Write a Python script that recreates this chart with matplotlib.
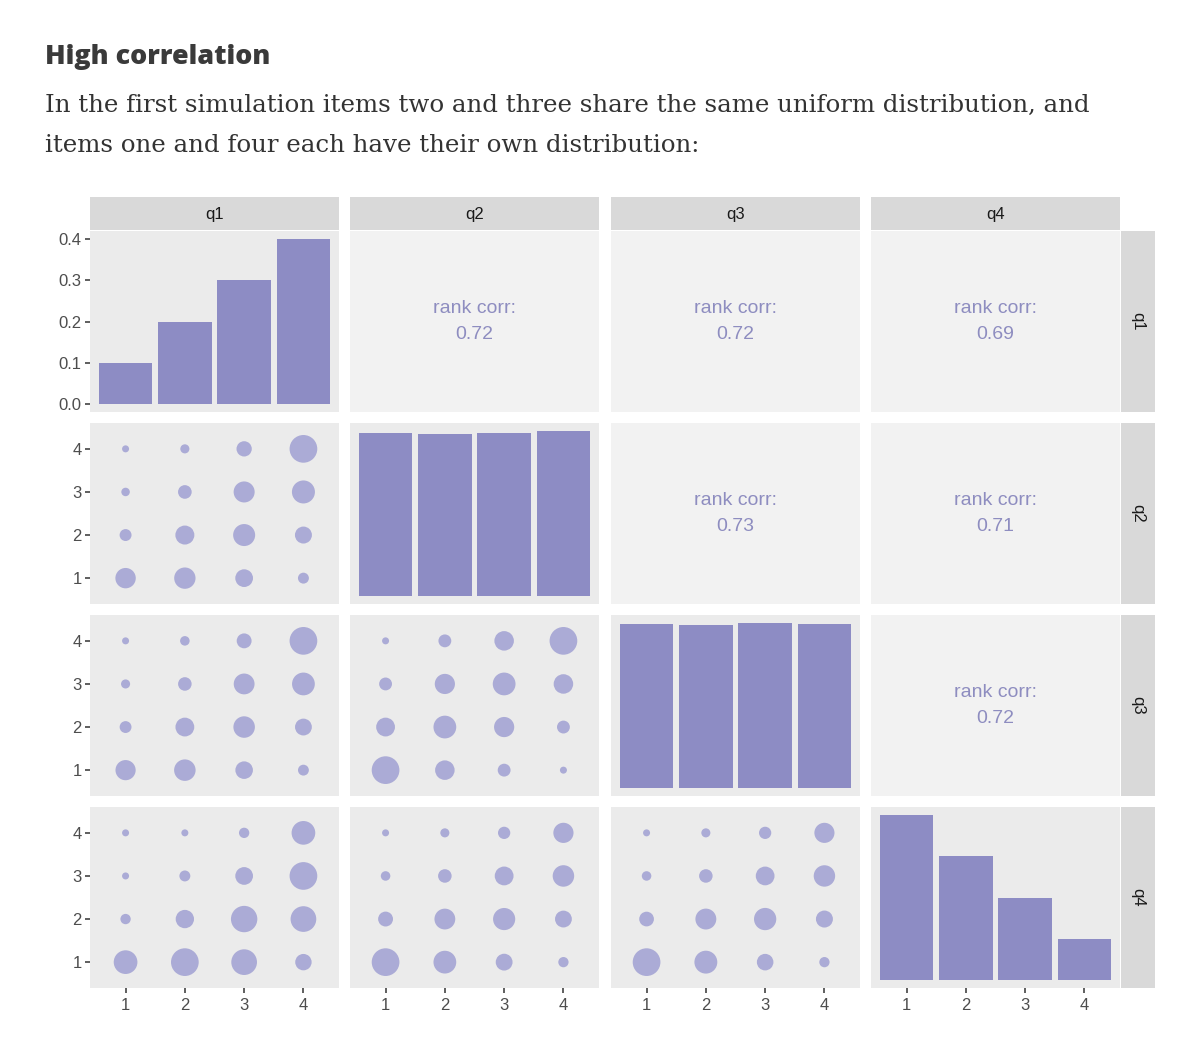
import matplotlib
matplotlib.use('Agg')
import matplotlib.pyplot as plt
from matplotlib.patches import Rectangle
import numpy as np

# ---------------- data ----------------
variables = ['q1', 'q2', 'q3', 'q4']
levels = [1, 2, 3, 4]

# diagonal: proportion of responses per level
diag_q1 = [0.10, 0.20, 0.30, 0.40]
diag_q2 = [0.250, 0.248, 0.250, 0.252]
diag_q3 = [0.250, 0.249, 0.251, 0.250]
diag_q4 = [0.40, 0.30, 0.20, 0.10]

# upper triangle: rank correlations
corr_q1_q2 = 0.72
corr_q1_q3 = 0.72
corr_q1_q4 = 0.69
corr_q2_q3 = 0.73
corr_q2_q4 = 0.71
corr_q3_q4 = 0.72

# lower triangle: counts; rows = y level 1..4, columns = x level 1..4
counts_q2_q1 = [[86, 98, 57, 12],
                [16, 70, 107, 50],
                [6, 25, 94, 121],
                [5, 7, 36, 199]]
counts_q3_q1 = [[86, 103, 57, 12],
                [16, 70, 103, 50],
                [7, 25, 94, 121],
                [5, 8, 34, 205]]
counts_q3_q2 = [[205, 78, 21, 5],
                [70, 121, 86, 21],
                [21, 86, 121, 78],
                [5, 21, 78, 205]]
counts_q4_q1 = [[131, 199, 163, 45],
                [10, 63, 175, 163],
                [5, 12, 57, 199],
                [5, 5, 10, 131]]
counts_q4_q2 = [[205, 121, 50, 10],
                [34, 94, 112, 50],
                [8, 25, 70, 103],
                [5, 7, 18, 86]]
counts_q4_q3 = [[207, 124, 48, 10],
                [33, 96, 115, 52],
                [8, 25, 70, 103],
                [5, 7, 18, 86]]

y_ticks_prop = [0.0, 0.1, 0.2, 0.3, 0.4]
y_ticklabels_prop = ['0.0', '0.1', '0.2', '0.3', '0.4']

diags = {0: diag_q1, 1: diag_q2, 2: diag_q3, 3: diag_q4}
uppers = {(0, 1): corr_q1_q2, (0, 2): corr_q1_q3, (0, 3): corr_q1_q4,
          (1, 2): corr_q2_q3, (1, 3): corr_q2_q4, (2, 3): corr_q3_q4}
lowers = {(1, 0): counts_q2_q1, (2, 0): counts_q3_q1, (2, 1): counts_q3_q2,
          (3, 0): counts_q4_q1, (3, 1): counts_q4_q2, (3, 2): counts_q4_q3}

# ---------------- style ----------------
W, H, DPI = 1200, 1057, 100
BAR = '#8D8CC4'
PT = '#ABABD6'
TXT_CORR = '#8E8DC0'
BG_LOW = '#EBEBEB'
BG_UP = '#F2F2F2'
STRIP = '#D9D9D9'
TICKC = '#4D4D4D'
SANS = ['Liberation Sans', 'DejaVu Sans']

col_x = [90, 350, 611, 871]
col_w = 249
row_y = [231, 423, 615, 807]
row_h = 181
top_strip_y, top_strip_h = 197, 33
right_strip_x, right_strip_w = 1121, 34

D_MIN_PX, D_MAX_PX = 7.0, 27.7

fig = plt.figure(figsize=(W / DPI, H / DPI), dpi=DPI)
fig.patch.set_facecolor('white')


def frac_rect(x, y, w, h):
    return [x / W, 1 - (y + h) / H, w / W, h / H]


def style_axes(ax, bg, left, bottom):
    ax.set_facecolor(bg)
    for s in ax.spines.values():
        s.set_visible(False)
    ax.tick_params(axis='both', length=3.4, width=1.1, color='#333333',
                   labelcolor=TICKC, labelsize=12, pad=2.5)
    ax.tick_params(axis='x', pad=4)
    if not left:
        ax.set_yticks([])
    if not bottom:
        ax.set_xticks([])


for i in range(4):
    for j in range(4):
        ax = fig.add_axes(frac_rect(col_x[j], row_y[i], col_w, row_h))
        ax.set_xlim(0.4, 4.6)
        if i == j:
            vals = diags[i]
            ax.bar(levels, vals, width=0.9, color=BAR, linewidth=0)
            m = max(vals)
            ax.set_ylim(-0.05 * m, 1.05 * m)
            style_axes(ax, BG_LOW, j == 0, i == 3)
            if j == 0:
                ax.set_yticks(y_ticks_prop)
                ax.set_yticklabels(y_ticklabels_prop)
        elif i < j:
            ax.set_ylim(0, 1)
            style_axes(ax, BG_UP, j == 0, i == 3)
            ax.text(2.5, 0.5, 'rank corr:\n%.2f' % uppers[(i, j)],
                    ha='center', va='center', color=TXT_CORR, fontsize=14,
                    family=SANS, linespacing=1.75)
        else:
            c = np.array(lowers[(i, j)], dtype=float)
            xs, ys = np.meshgrid(levels, levels)
            norm = (c - c.min()) / (c.max() - c.min())
            d_px = D_MIN_PX + (D_MAX_PX - D_MIN_PX) * np.sqrt(norm)
            d_pt = d_px * 72 / DPI
            ax.scatter(xs.ravel(), ys.ravel(), s=(d_pt ** 2).ravel(),
                       color=PT, linewidths=0)
            ax.set_ylim(0.4, 4.6)
            style_axes(ax, BG_LOW, j == 0, i == 3)
            if j == 0:
                ax.set_yticks(levels)
        if i == 3:
            ax.set_xticks(levels)
        for lab in ax.get_xticklabels() + ax.get_yticklabels():
            lab.set_family(SANS)

# top strips
for j in range(4):
    fig.patches.append(Rectangle((col_x[j] / W, 1 - (top_strip_y + top_strip_h) / H),
                                 col_w / W, top_strip_h / H,
                                 transform=fig.transFigure, facecolor=STRIP,
                                 edgecolor='none'))
    fig.text((col_x[j] + col_w / 2) / W, 1 - (top_strip_y + top_strip_h / 2 + 1.5) / H,
             variables[j], ha='center', va='center', fontsize=12,
             color='#1A1A1A', family=SANS)

# right strips
for i in range(4):
    fig.patches.append(Rectangle((right_strip_x / W, 1 - (row_y[i] + row_h) / H),
                                 right_strip_w / W, row_h / H,
                                 transform=fig.transFigure, facecolor=STRIP,
                                 edgecolor='none'))
    fig.text((right_strip_x + right_strip_w / 2) / W, 1 - (row_y[i] + row_h / 2) / H,
             variables[i], ha='center', va='center', fontsize=12, rotation=-90,
             color='#1A1A1A', family=SANS)

# title and subtitle
renderer = fig.canvas.get_renderer()
title = fig.text(45 / W, 1 - 57 / H, 'High correlation', ha='left', va='center',
                 fontsize=21, fontweight=800, family=['Open Sans', 'DejaVu Sans'],
                 color='#3A3A3A')
tw = title.get_window_extent(renderer).width
title.set_fontsize(21 * 225 / tw)

line1 = 'In the first simulation items two and three share the same uniform distribution, and'
line2 = 'items one and four each have their own distribution:'
s1 = fig.text(45 / W, 1 - 105 / H, line1, ha='left', va='center', fontsize=16,
              family='DejaVu Serif', color='#333333')
w1 = s1.get_window_extent(renderer).width
fs = 16 * 1045 / w1
s1.set_fontsize(fs)
fig.text(45 / W, 1 - 146 / H, line2, ha='left', va='center', fontsize=fs,
         family='DejaVu Serif', color='#333333')

fig.savefig('out.png', dpi=DPI, facecolor='white')
